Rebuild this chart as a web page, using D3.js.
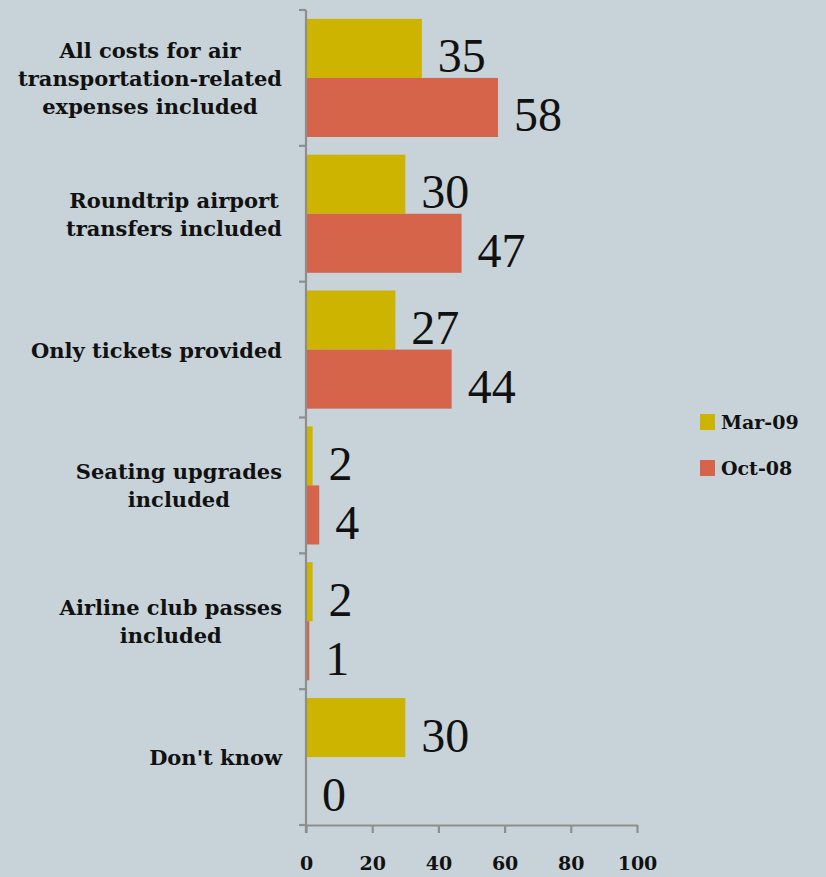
<!DOCTYPE html>
<html>
<head>
<meta charset="utf-8">
<script src="https://cdn.jsdelivr.net/npm/d3@7"></script>
<style>
  html, body { margin: 0; padding: 0; background: #c8d3d9; }
  svg { display: block; }
</style>
</head>
<body>
<svg id="chart" width="826" height="877"></svg>
<script>
// Data
const categories = [
  "All costs for air\ntransportation-related\nexpenses included",
  "Roundtrip airport\ntransfers included",
  "Only tickets provided",
  "Seating upgrades\nincluded",
  "Airline club passes\nincluded",
  "Don't know"
];
const seriesNames = ["Mar-09", "Oct-08"];
const mar09 = [35, 30, 27, 2, 2, 30];
const oct08 = [58, 47, 44, 4, 1, 0];
const xTicks = [0, 20, 40, 60, 80, 100];

const colors = { "Mar-09": "#cdb401", "Oct-08": "#d5644b" };
const seriesValues = { "Mar-09": mar09, "Oct-08": oct08 };

const svg = d3.select("#chart");
const serif = "'Liberation Serif', 'DejaVu Serif', serif";
const slab = "'DejaVu Serif', 'Liberation Serif', serif";

const x = d3.scaleLinear().domain([0, 100]).range([306, 637]);
const y = d3.scaleBand().domain(categories).range([10, 825]).padding(0);
const ySub = d3.scaleBand().domain(seriesNames).range([0, y.bandwidth()])
  .paddingInner(0).paddingOuter(0.15);

const rows = categories.map((c, i) => ({
  cat: c,
  bars: seriesNames.map(s => ({ series: s, value: seriesValues[s][i] }))
}));

// Bars
const groups = svg.append("g").selectAll("g")
  .data(rows).join("g")
  .attr("transform", d => `translate(0,${y(d.cat)})`);

groups.selectAll("rect")
  .data(d => d.bars).join("rect")
  .attr("x", x(0))
  .attr("y", d => ySub(d.series))
  .attr("width", d => x(d.value) - x(0))
  .attr("height", ySub.bandwidth())
  .attr("fill", d => colors[d.series]);

// Value labels
groups.selectAll("text.val")
  .data(d => d.bars).join("text")
  .attr("class", "val")
  .attr("x", d => x(d.value) + 16)
  .attr("y", d => ySub(d.series) + ySub.bandwidth() / 2 + 24)
  .attr("font-family", serif)
  .attr("font-size", 48)
  .attr("fill", "#111")
  .text(d => d.value);

// Y axis line and boundary ticks
const axisColor = "#8e8e8e";
svg.append("line")
  .attr("x1", x(0)).attr("x2", x(0))
  .attr("y1", y.range()[0]).attr("y2", y.range()[1] + 8)
  .attr("stroke", axisColor).attr("stroke-width", 2.2);

const boundaries = categories.map(c => y(c)).concat([y.range()[1]]);
svg.append("g").selectAll("line")
  .data(boundaries).join("line")
  .attr("x1", x(0) - 7).attr("x2", x(0))
  .attr("y1", d => d).attr("y2", d => d)
  .attr("stroke", axisColor).attr("stroke-width", 2.2);

// X axis
const xAxis = svg.append("g")
  .attr("transform", `translate(0,${y.range()[1]})`)
  .call(d3.axisBottom(x).tickValues(xTicks).tickSize(8).tickSizeOuter(0).tickPadding(24));
xAxis.select(".domain").attr("stroke", axisColor).attr("stroke-width", 2.2);
xAxis.selectAll(".tick line").attr("stroke", axisColor).attr("stroke-width", 2.2);
xAxis.selectAll(".tick text")
  .attr("font-family", slab).attr("font-size", 19).attr("font-weight", "bold")
  .attr("fill", "#111");

// Category labels: centred lines, block right-aligned against the axis
const labelRight = 282;
const lineH = 28;
rows.forEach(r => {
  const lines = r.cat.split("\n");
  const g = svg.append("g");
  const cy = y(r.cat) + y.bandwidth() / 2;
  const texts = g.selectAll("text").data(lines).join("text")
    .attr("font-family", slab)
    .attr("font-size", 21)
    .attr("font-weight", "bold")
    .attr("fill", "#111")
    .attr("text-anchor", "middle")
    .attr("y", (d, i) => cy + (i - (lines.length - 1) / 2) * lineH + 8)
    .text(d => d);
  let maxW = 0;
  texts.each(function () { maxW = Math.max(maxW, this.getComputedTextLength()); });
  texts.attr("x", labelRight - maxW / 2);
});

// Legend
const legend = svg.append("g").selectAll("g")
  .data(seriesNames).join("g")
  .attr("transform", (d, i) => `translate(700,${414 + i * 46})`);
legend.append("rect")
  .attr("width", 15).attr("height", 16)
  .attr("fill", d => colors[d]);
legend.append("text")
  .attr("x", 21).attr("y", 15)
  .attr("font-family", slab).attr("font-size", 19).attr("font-weight", "bold")
  .attr("fill", "#111")
  .text(d => d);
</script>
</body>
</html>
